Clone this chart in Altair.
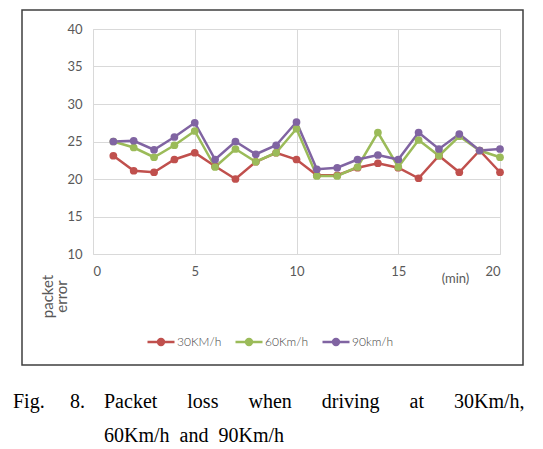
import altair as alt
import pandas as pd

minutes = list(range(1, 21))
series_names = ["30KM/h", "60Km/h", "90km/h"]
series_colors = ["#C0504D", "#9BBB59", "#8064A2"]
v30 = [23.1, 21.1, 20.9, 22.6, 23.5, 21.7, 20.0, 22.3, 23.5, 22.6,
       20.5, 20.5, 21.5, 22.1, 21.5, 20.1, 23.1, 20.9, 23.8, 20.9]
v60 = [25.0, 24.2, 22.9, 24.5, 26.4, 21.6, 24.0, 22.3, 23.5, 26.7,
       20.4, 20.4, 21.6, 26.2, 21.6, 25.2, 23.1, 25.7, 23.8, 22.9]
v90 = [25.0, 25.1, 23.9, 25.6, 27.5, 22.6, 25.0, 23.3, 24.5, 27.6,
       21.3, 21.5, 22.6, 23.2, 22.6, 26.2, 24.0, 26.0, 23.8, 24.0]
x_ticks = [0, 5, 10, 15, 20]
y_ticks = [10, 15, 20, 25, 30, 35, 40]
caption_line1_label = "Fig."
caption_line1_num = "8."
caption_line1_words = ["Packet", "loss", "when", "driving", "at", "30Km/h,"]
caption_line2_words = ["60Km/h", "and", "90Km/h"]

rows = []
for name, vals in zip(series_names, [v30, v60, v90]):
    for m, v in zip(minutes, vals):
        rows.append({"minute": m, "value": v, "series": name})
df = pd.DataFrame(rows)

GRAY = "#595959"
FONT = "Lato"

color = alt.Color(
    "series:N",
    scale=alt.Scale(domain=series_names, range=series_colors),
    sort=series_names,
    legend=alt.Legend(
        title=None,
        orient="none",
        legendX=53,
        legendY=298,
        direction="horizontal",
        symbolType="M-1,0L1,0M-0.22,0A0.22,0.22,0,1,0,0.22,0A0.22,0.22,0,1,0,-0.22,0Z",
        symbolSize=729,
        symbolStrokeWidth=2.5,
        labelFont=FONT,
        labelFontSize=12,
        labelFontWeight=300,
        labelColor="#404040",
        labelOffset=1,
        columnPadding=8,
    ),
)

x_enc = alt.X(
    "minute:Q",
    scale=alt.Scale(domain=[0, 20], nice=False),
    axis=alt.Axis(
        values=x_ticks,
        title="(min)",
        titleX=362,
        titleY=28,
        titleAlign="center",
        titleBaseline="alphabetic",
        titleFont=FONT,
        titleFontSize=13,
        titleFontWeight="normal",
        titleColor=GRAY,
        labelFont=FONT,
        labelFontSize=13,
        labelColor=GRAY,
        labelPadding=11,
        labelOverlap=False,
        ticks=False,
        tickSize=0,
        domain=False,
        grid=True,
        gridColor="#D9D9D9",
        gridWidth=1,
    ),
)
y_enc = alt.Y(
    "value:Q",
    scale=alt.Scale(domain=[10, 40], nice=False),
    axis=alt.Axis(
        values=y_ticks,
        title=["packet", "error"],
        titleAngle=270,
        titleX=-46,
        titleY=267,
        titleAlign="center",
        titleBaseline="middle",
        titleLineHeight=14,
        titleFont=FONT,
        titleFontSize=15,
        titleFontWeight="normal",
        titleColor=GRAY,
        labelFont=FONT,
        labelFontSize=13,
        labelColor=GRAY,
        labelPadding=11,
        labelOverlap=False,
        ticks=False,
        tickSize=0,
        domain=False,
        grid=True,
        gridColor="#D9D9D9",
        gridWidth=1,
    ),
)

lines = alt.Chart(df).mark_line(strokeWidth=2.5).encode(
    x=x_enc, y=y_enc, color=color
)
points = alt.Chart(df).mark_point(filled=True, size=60, opacity=1).encode(
    x=x_enc, y=y_enc, color=color
)

frame = alt.Chart(pd.DataFrame({"a": [0]})).mark_rect(
    filled=False, stroke="#3F3F3F", strokeWidth=1.5, fill="transparent"
).encode(
    x=alt.value(-71), x2=alt.value(430), y=alt.value(-19), y2=alt.value(336)
)

sp = "\u00a0"
line1_rest = (sp * 6).join(caption_line1_words)
line2 = (sp * 2).join(caption_line2_words)

cap_style = dict(font="Liberation Serif", fontSize=20, color="black",
                 align="left", baseline="alphabetic")
cap_a = alt.Chart(pd.DataFrame({"t": [caption_line1_label]})).mark_text(**cap_style).encode(
    text="t:N", x=alt.value(-80), y=alt.value(379))
cap_b = alt.Chart(pd.DataFrame({"t": [caption_line1_num]})).mark_text(**cap_style).encode(
    text="t:N", x=alt.value(-23), y=alt.value(379))
cap_c = alt.Chart(pd.DataFrame({"t": [line1_rest]})).mark_text(**cap_style).encode(
    text="t:N", x=alt.value(11), y=alt.value(379))
cap_d = alt.Chart(pd.DataFrame({"t": [line2]})).mark_text(**cap_style).encode(
    text="t:N", x=alt.value(11), y=alt.value(413))

chart = alt.layer(frame, lines, points, cap_a, cap_b, cap_c, cap_d).properties(
    width=407,
    height=225,
    autosize=alt.AutoSizeParams(type="none"),
    padding={"left": 85, "top": 21, "right": 25, "bottom": 196},
).configure_view(stroke=None).configure(background="white")

chart.save("out.html", embed_options={"renderer": "svg", "actions": False})
